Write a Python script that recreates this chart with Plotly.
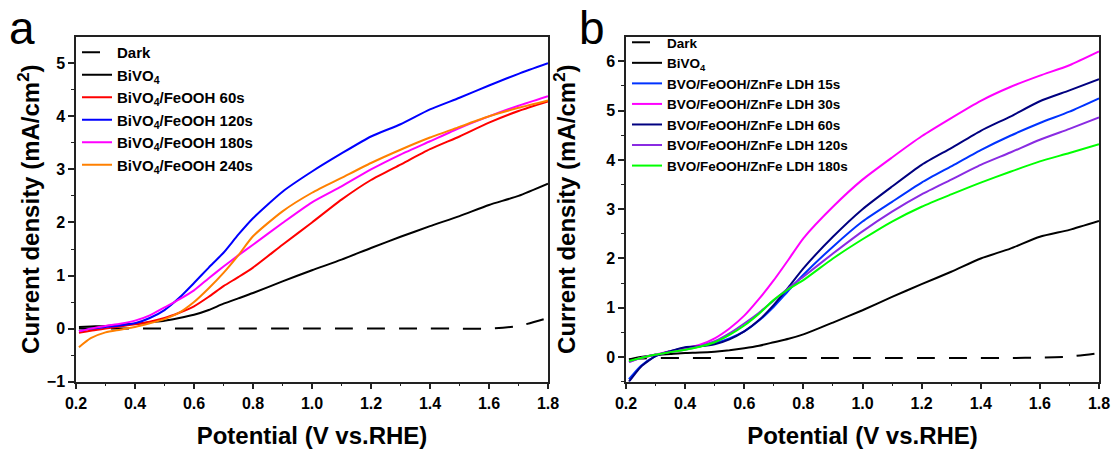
import plotly.graph_objects as go
from plotly.subplots import make_subplots

# potential (V vs. RHE)
potential = [0.21, 0.25, 0.3, 0.35, 0.4, 0.45, 0.5, 0.55, 0.6, 0.65, 0.7, 0.75,
             0.8, 0.9, 1.0, 1.1, 1.2, 1.3, 1.4, 1.5, 1.6, 1.7, 1.8]

# panel a - current density (mA/cm2)
dark_a = [0, 0, 0, 0, 0, 0, 0, 0, 0, 0, 0, 0, 0, 0, 0, 0, 0, 0, 0, 0, 0.0, 0.05, 0.2]
bivo4_a = [0.03, 0.04, 0.05, 0.07, 0.09, 0.12, 0.15, 0.2, 0.26, 0.35, 0.47, 0.57,
           0.67, 0.89, 1.1, 1.3, 1.52, 1.73, 1.93, 2.12, 2.33, 2.5, 2.73]
feooh_60 = [-0.08, -0.04, 0.0, 0.04, 0.08, 0.13, 0.2, 0.3, 0.42, 0.6, 0.8, 0.97,
            1.15, 1.58, 2.0, 2.43, 2.8, 3.09, 3.38, 3.62, 3.88, 4.1, 4.28]
feooh_120 = [-0.05, 0.0, 0.03, 0.06, 0.1, 0.2, 0.35, 0.58, 0.86, 1.15, 1.43, 1.77,
             2.08, 2.58, 2.96, 3.3, 3.62, 3.85, 4.13, 4.35, 4.58, 4.8, 5.0]
feooh_180 = [-0.05, 0.0, 0.05, 0.09, 0.15, 0.25, 0.4, 0.55, 0.72, 0.95, 1.17, 1.38,
             1.58, 1.99, 2.38, 2.68, 3.0, 3.28, 3.53, 3.78, 4.0, 4.2, 4.38]
feooh_240 = [-0.35, -0.18, -0.07, -0.02, 0.03, 0.1, 0.18, 0.3, 0.5, 0.76, 1.05, 1.38,
             1.74, 2.21, 2.56, 2.84, 3.12, 3.37, 3.6, 3.8, 4.0, 4.16, 4.3]

# panel b - current density (mA/cm2)
dark_b = [-0.05, -0.03, -0.02, -0.02, -0.02, -0.02, -0.02, -0.02, -0.02, -0.02, -0.02, -0.02,
          -0.02, -0.02, -0.02, -0.02, -0.02, -0.02, -0.02, -0.02, -0.01, 0.01, 0.08]
bivo4_b = [-0.05, 0.0, 0.04, 0.06, 0.08, 0.09, 0.11, 0.14, 0.18, 0.23, 0.3, 0.37,
           0.46, 0.7, 0.95, 1.22, 1.48, 1.73, 2.0, 2.2, 2.44, 2.58, 2.76]
ldh_15 = [-0.45, -0.18, 0.02, 0.12, 0.19, 0.22, 0.28, 0.38, 0.52, 0.74, 1.02, 1.35,
          1.67, 2.24, 2.75, 3.15, 3.54, 3.87, 4.2, 4.49, 4.75, 4.98, 5.25]
ldh_30 = [-0.1, -0.02, 0.05, 0.12, 0.18, 0.25, 0.38, 0.58, 0.84, 1.18, 1.56, 1.98,
          2.41, 3.05, 3.6, 4.05, 4.48, 4.85, 5.2, 5.48, 5.71, 5.92, 6.2]
ldh_60 = [-0.5, -0.2, 0.02, 0.12, 0.2, 0.22, 0.26, 0.36, 0.52, 0.75, 1.06, 1.42,
          1.8, 2.44, 3.0, 3.46, 3.9, 4.24, 4.59, 4.88, 5.19, 5.41, 5.64]
ldh_120 = [-0.1, -0.02, 0.05, 0.1, 0.15, 0.22, 0.32, 0.48, 0.68, 0.9, 1.15, 1.4,
           1.63, 2.1, 2.55, 2.95, 3.3, 3.6, 3.9, 4.15, 4.41, 4.63, 4.86]
ldh_180 = [-0.08, -0.02, 0.05, 0.1, 0.15, 0.21, 0.3, 0.45, 0.64, 0.88, 1.16, 1.38,
           1.56, 2.0, 2.39, 2.75, 3.05, 3.3, 3.54, 3.76, 3.97, 4.14, 4.32]

xticks = [0.2, 0.4, 0.6, 0.8, 1.0, 1.2, 1.4, 1.6, 1.8]
xtick_labels = ["0.2", "0.4", "0.6", "0.8", "1.0", "1.2", "1.4", "1.6", "1.8"]

panel_a = [
    ("Dark", dark_a, "black", "18px,14px"),
    ("BiVO<sub>4</sub>", bivo4_a, "black", "solid"),
    ("BiVO<sub>4</sub>/FeOOH 60s", feooh_60, "#ff0000", "solid"),
    ("BiVO<sub>4</sub>/FeOOH 120s", feooh_120, "#0000ff", "solid"),
    ("BiVO<sub>4</sub>/FeOOH 180s", feooh_180, "#ff00ff", "solid"),
    ("BiVO<sub>4</sub>/FeOOH 240s", feooh_240, "#ff8000", "solid"),
]
panel_b = [
    ("Dark", dark_b, "black", "18px,14px"),
    ("BiVO<sub>4</sub>", bivo4_b, "black", "solid"),
    ("BVO/FeOOH/ZnFe LDH 15s", ldh_15, "#0033ff", "solid"),
    ("BVO/FeOOH/ZnFe LDH 30s", ldh_30, "#ff00ff", "solid"),
    ("BVO/FeOOH/ZnFe LDH 60s", ldh_60, "#000080", "solid"),
    ("BVO/FeOOH/ZnFe LDH 120s", ldh_120, "#8a2be2", "solid"),
    ("BVO/FeOOH/ZnFe LDH 180s", ldh_180, "#00ff00", "solid"),
]

fig = make_subplots(rows=1, cols=2)

for name, ys, color, dash in panel_a:
    fig.add_trace(go.Scatter(x=potential, y=ys, name=name, mode="lines",
                             line=dict(color=color, width=2, dash=dash, shape="spline", smoothing=0.6),
                             legend="legend"), row=1, col=1)
for name, ys, color, dash in panel_b:
    fig.add_trace(go.Scatter(x=potential, y=ys, name=name, mode="lines",
                             line=dict(color=color, width=2, dash=dash, shape="spline", smoothing=0.6),
                             legend="legend2"), row=1, col=2)

W, H = 1113, 452
dom_y = [1 - 381.7 / H, 1 - 36.7 / H]

axis_common = dict(showline=True, mirror=True, linecolor="#222", linewidth=1.5,
                   ticks="outside", ticklen=6, tickwidth=1.5, tickcolor="#222",
                   showgrid=False, zeroline=False, automargin=False,
                   tickfont=dict(family="Liberation Sans", size=16, color="black", weight="bold"),
                   minor=dict(ticks="outside", ticklen=3, tickwidth=1.2, tickcolor="#222", showgrid=False))

title_font = dict(family="Liberation Sans", size=24, color="black", weight="bold")
ytitle = "Current density (mA/cm<sup>2</sup>)"

fig.update_xaxes(**axis_common, range=[0.2, 1.8], tickvals=xticks, ticktext=xtick_labels,
                 title=dict(text="Potential (V vs.RHE)", font=title_font, standoff=17))
fig.update_layout(
    xaxis=dict(domain=[76 / W, 548 / W]),
    xaxis2=dict(domain=[626 / W, 1099 / W]),
)
fig.update_yaxes(**axis_common, title=dict(text=ytitle, font=title_font))
fig.update_layout(
    yaxis=dict(domain=dom_y, range=[-1, 5.5], tickvals=[-1, 0, 1, 2, 3, 4, 5],
               minor=dict(tickvals=[-0.5, 0.5, 1.5, 2.5, 3.5, 4.5]),
               title=dict(standoff=0)),
    yaxis2=dict(domain=dom_y, range=[-0.5, 6.5], tickvals=[0, 1, 2, 3, 4, 5, 6],
                minor=dict(tickvals=[-0.5, 0.5, 1.5, 2.5, 3.5, 4.5, 5.5]),
                title=dict(standoff=24)),
)
fig.update_xaxes(minor=dict(tickvals=[0.3, 0.5, 0.7, 0.9, 1.1, 1.3, 1.5, 1.7]))

legend_font = dict(family="Liberation Sans", size=15, color="black", weight="bold")
letter_font = dict(family="Liberation Sans", size=46, color="black")
fig.update_layout(
    width=W, height=H,
    margin=dict(l=0, r=0, t=0, b=0),
    plot_bgcolor="white", paper_bgcolor="white",
    legend=dict(x=77 / W, y=1 - 36 / H, xanchor="left", yanchor="top",
                bgcolor="rgba(0,0,0,0)", font=legend_font, tracegroupgap=0),
    legend2=dict(x=627 / W, y=1 - 27 / H, xanchor="left", yanchor="top",
                 bgcolor="rgba(0,0,0,0)", font=dict(legend_font, size=13.5), tracegroupgap=0),
    annotations=[
        dict(text="a", x=22 / W, y=1 - 56 / H, xref="paper", yref="paper", showarrow=False,
             xanchor="center", yanchor="bottom", font=letter_font),
        dict(text="b", x=592 / W, y=1 - 56 / H, xref="paper", yref="paper", showarrow=False,
             xanchor="center", yanchor="bottom", font=letter_font),
    ],
)

# drop the default page margin so the figure sits at the window corner
fig.write_html("out.html", config={"displayModeBar": False},
               post_script="document.body.style.margin='0';")
